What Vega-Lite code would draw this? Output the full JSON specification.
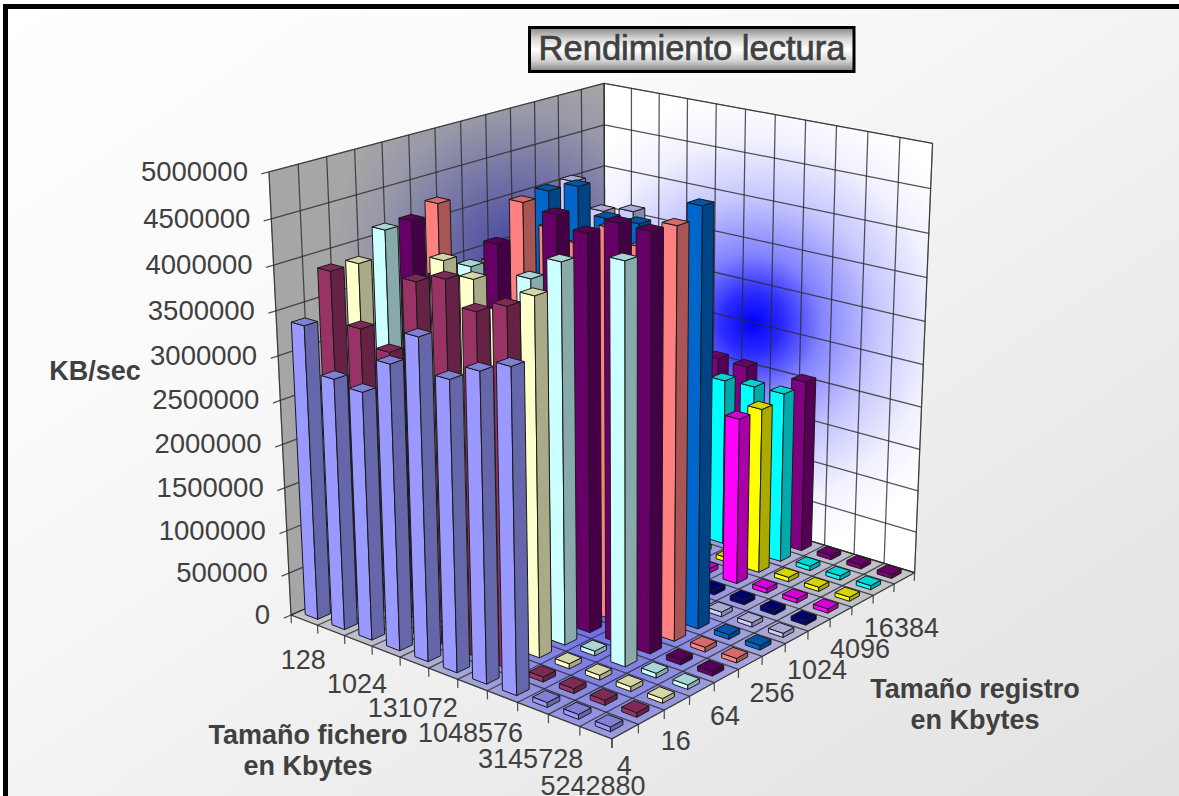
{"$schema":"https://vega.github.io/schema/vega-lite/v6.json","width":1179,"height":796,"padding":0,"autosize":{"type":"none"},"background":"white","config":{"view":{"stroke":null},"axis":{"domain":false,"grid":false,"ticks":false,"labels":false,"title":null}},
"datasets":{
"vertices":[{"n":0},{"n":1},{"n":2},{"n":3},{"n":4}],
"rejilla":[{"plano":"pi_v","k":[0,1,2,3,4,5,6,7,8,9,10,11,12,13]},{"plano":"pi_h","k":[0,1,2,3,4,5,6,7,8,9,10]},{"plano":"pd_v","k":[0,1,2,3,4,5,6,7,8,9,10,11]},{"plano":"pd_h","k":[0,1,2,3,4,5,6,7,8,9,10]},{"plano":"s_f","k":[0,1,2,3,4,5,6,7,8,9,10,11]},{"plano":"s_r","k":[0,1,2,3,4,5,6,7,8,9,10,11,12,13]},{"plano":"t_f","k":[0,1,2,3,4,5,6,7,8,9,10,11]},{"plano":"t_r","k":[0,1,2,3,4,5,6,7,8,9,10,11,12,13]},{"plano":"t_y","k":[0,1,2,3,4,5,6,7,8,9,10]}],
"barras":[
{"fichero":131072,"registro":16384,"kbs":2080000},{"fichero":524288,"registro":16384,"kbs":2070000},{"fichero":1048576,"registro":16384,"kbs":1500000},{"fichero":2097152,"registro":16384,"kbs":2070000},{"fichero":3145728,"registro":16384,"kbs":52000},{"fichero":4194304,"registro":16384,"kbs":50000},{"fichero":5242880,"registro":16384,"kbs":48000},
{"fichero":131072,"registro":8192,"kbs":1900000},{"fichero":524288,"registro":8192,"kbs":2010000},{"fichero":1048576,"registro":8192,"kbs":2030000},{"fichero":2097152,"registro":8192,"kbs":2040000},{"fichero":3145728,"registro":8192,"kbs":55000},{"fichero":4194304,"registro":8192,"kbs":52000},{"fichero":5242880,"registro":8192,"kbs":50000},
{"fichero":4096,"registro":4096,"kbs":52000},{"fichero":131072,"registro":4096,"kbs":52000},{"fichero":524288,"registro":4096,"kbs":53000},{"fichero":1048576,"registro":4096,"kbs":55000},{"fichero":2097152,"registro":4096,"kbs":1970000},{"fichero":3145728,"registro":4096,"kbs":55000},{"fichero":4194304,"registro":4096,"kbs":52000},{"fichero":5242880,"registro":4096,"kbs":50000},
{"fichero":4096,"registro":2048,"kbs":52000},{"fichero":131072,"registro":2048,"kbs":52000},{"fichero":524288,"registro":2048,"kbs":53000},{"fichero":1048576,"registro":2048,"kbs":55000},{"fichero":2097152,"registro":2048,"kbs":1970000},{"fichero":3145728,"registro":2048,"kbs":55000},{"fichero":4194304,"registro":2048,"kbs":52000},{"fichero":5242880,"registro":2048,"kbs":50000},
{"fichero":1024,"registro":1024,"kbs":52000},{"fichero":4096,"registro":1024,"kbs":52000},{"fichero":131072,"registro":1024,"kbs":52000},{"fichero":524288,"registro":1024,"kbs":53000},{"fichero":1048576,"registro":1024,"kbs":55000},{"fichero":2097152,"registro":1024,"kbs":55000},{"fichero":3145728,"registro":1024,"kbs":55000},{"fichero":4194304,"registro":1024,"kbs":52000},{"fichero":5242880,"registro":1024,"kbs":50000},
{"fichero":512,"registro":512,"kbs":3400000},{"fichero":1024,"registro":512,"kbs":3400000},{"fichero":4096,"registro":512,"kbs":4550000},{"fichero":131072,"registro":512,"kbs":4290000},{"fichero":524288,"registro":512,"kbs":4360000},{"fichero":1048576,"registro":512,"kbs":3000000},{"fichero":2097152,"registro":512,"kbs":55000},{"fichero":3145728,"registro":512,"kbs":55000},{"fichero":4194304,"registro":512,"kbs":52000},{"fichero":5242880,"registro":512,"kbs":50000},
{"fichero":512,"registro":256,"kbs":3300000},{"fichero":1024,"registro":256,"kbs":3800000},{"fichero":4096,"registro":256,"kbs":4530000},{"fichero":131072,"registro":256,"kbs":4650000},{"fichero":524288,"registro":256,"kbs":4370000},{"fichero":1048576,"registro":256,"kbs":4390000},{"fichero":2097152,"registro":256,"kbs":4300000},{"fichero":3145728,"registro":256,"kbs":4730000},{"fichero":4194304,"registro":256,"kbs":55000},{"fichero":5242880,"registro":256,"kbs":52000},
{"fichero":128,"registro":128,"kbs":4260000},{"fichero":512,"registro":128,"kbs":3500000},{"fichero":1024,"registro":128,"kbs":3750000},{"fichero":4096,"registro":128,"kbs":4490000},{"fichero":131072,"registro":128,"kbs":4280000},{"fichero":524288,"registro":128,"kbs":4180000},{"fichero":1048576,"registro":128,"kbs":4430000},{"fichero":2097152,"registro":128,"kbs":4300000},{"fichero":3145728,"registro":128,"kbs":4610000},{"fichero":4194304,"registro":128,"kbs":55000},{"fichero":5242880,"registro":128,"kbs":52000},
{"fichero":128,"registro":64,"kbs":4150000},{"fichero":512,"registro":64,"kbs":3600000},{"fichero":1024,"registro":64,"kbs":3600000},{"fichero":4096,"registro":64,"kbs":4120000},{"fichero":131072,"registro":64,"kbs":3500000},{"fichero":524288,"registro":64,"kbs":4590000},{"fichero":1048576,"registro":64,"kbs":4470000},{"fichero":2097152,"registro":64,"kbs":4650000},{"fichero":3145728,"registro":64,"kbs":4640000},{"fichero":4194304,"registro":64,"kbs":55000},{"fichero":5242880,"registro":64,"kbs":52000},
{"fichero":128,"registro":32,"kbs":4140000},{"fichero":512,"registro":32,"kbs":3500000},{"fichero":1024,"registro":32,"kbs":3600000},{"fichero":4096,"registro":32,"kbs":3970000},{"fichero":131072,"registro":32,"kbs":3300000},{"fichero":524288,"registro":32,"kbs":4000000},{"fichero":1048576,"registro":32,"kbs":4260000},{"fichero":2097152,"registro":32,"kbs":55000},{"fichero":3145728,"registro":32,"kbs":4430000},{"fichero":4194304,"registro":32,"kbs":55000},{"fichero":5242880,"registro":32,"kbs":52000},
{"fichero":128,"registro":16,"kbs":3860000},{"fichero":512,"registro":16,"kbs":2930000},{"fichero":1024,"registro":16,"kbs":3700000},{"fichero":4096,"registro":16,"kbs":4130000},{"fichero":131072,"registro":16,"kbs":4010000},{"fichero":524288,"registro":16,"kbs":3750000},{"fichero":1048576,"registro":16,"kbs":4000000},{"fichero":2097152,"registro":16,"kbs":58000},{"fichero":3145728,"registro":16,"kbs":55000},{"fichero":4194304,"registro":16,"kbs":55000},{"fichero":5242880,"registro":16,"kbs":52000},
{"fichero":128,"registro":8,"kbs":3870000},{"fichero":512,"registro":8,"kbs":3320000},{"fichero":1024,"registro":8,"kbs":3150000},{"fichero":4096,"registro":8,"kbs":4000000},{"fichero":131072,"registro":8,"kbs":4110000},{"fichero":524288,"registro":8,"kbs":3850000},{"fichero":1048576,"registro":8,"kbs":3990000},{"fichero":2097152,"registro":8,"kbs":58000},{"fichero":3145728,"registro":8,"kbs":55000},{"fichero":4194304,"registro":8,"kbs":55000},{"fichero":5242880,"registro":8,"kbs":52000},
{"fichero":128,"registro":4,"kbs":3370000},{"fichero":512,"registro":4,"kbs":2870000},{"fichero":1024,"registro":4,"kbs":2820000},{"fichero":4096,"registro":4,"kbs":3220000},{"fichero":131072,"registro":4,"kbs":3600000},{"fichero":524288,"registro":4,"kbs":3240000},{"fichero":1048576,"registro":4,"kbs":3420000},{"fichero":2097152,"registro":4,"kbs":3560000},{"fichero":3145728,"registro":4,"kbs":55000},{"fichero":4194304,"registro":4,"kbs":55000},{"fichero":5242880,"registro":4,"kbs":52000}
]},
"layer":[
{"data":{"values":[{}]},"mark":{"type":"rect","fill":{"gradient":"linear","x1":0,"y1":0,"x2":1,"y2":1,"stops":[{"offset":0,"color":"#FFFFFF"},{"offset":0.3,"color":"#FAFAFA"},{"offset":1,"color":"#E1E1E1"}]}},"encoding":{"x":{"datum":3,"type":"quantitative","scale":{"domain":[0,1179],"range":[0,1179],"nice":false,"zero":false},"axis":null},"x2":{"datum":1179},"y":{"datum":4,"type":"quantitative","scale":{"domain":[0,796],"range":[0,796],"nice":false,"zero":false},"axis":null},"y2":{"datum":796}}},
{"data":{"values":[{}]},"mark":{"type":"rect","fill":"#000000"},"encoding":{"x":{"datum":3,"type":"quantitative"},"x2":{"datum":1179},"y":{"datum":4,"type":"quantitative"},"y2":{"datum":9}}},
{"data":{"values":[{}]},"mark":{"type":"rect","fill":"#000000"},"encoding":{"x":{"datum":3,"type":"quantitative"},"x2":{"datum":8},"y":{"datum":4,"type":"quantitative"},"y2":{"datum":796}}},
{"data":{"name":"vertices"},"transform":[{"calculate":"0","as":"u"},{"calculate":"(datum.n==1||datum.n==2)?1:0","as":"v"},{"calculate":"(datum.n==2||datum.n==3)?1:0","as":"h"},{"calculate":"(291+259.9*datum.u+396.6*datum.v-38.5*datum.h)/(1-0.0997*datum.u+0.13565*datum.v-0.0612*datum.h)","as":"px"},{"calculate":"(615+50.2*datum.u-71.9*datum.v-453.6*datum.h)/(1-0.0997*datum.u+0.13565*datum.v-0.0612*datum.h)","as":"py"}],"mark":{"type":"line","stroke":"#808080","strokeWidth":1,"fill":{"gradient":"radial","x1":0.656,"y1":0.33,"r1":0,"x2":0.656,"y2":0.33,"r2":0.36,"stops":[{"offset":0,"color":"#3F3FA0"},{"offset":0.4,"color":"#6E6EA6"},{"offset":0.75,"color":"#9797A8"},{"offset":1,"color":"#A6A6A6"}]}},"encoding":{"x":{"field":"px","type":"quantitative"},"y":{"field":"py","type":"quantitative"},"order":{"field":"n"}}},
{"data":{"name":"vertices"},"transform":[{"calculate":"1","as":"v"},{"calculate":"(datum.n==1||datum.n==2)?1:0","as":"u"},{"calculate":"(datum.n==2||datum.n==3)?1:0","as":"h"},{"calculate":"(291+259.9*datum.u+396.6*datum.v-38.5*datum.h)/(1-0.0997*datum.u+0.13565*datum.v-0.0612*datum.h)","as":"px"},{"calculate":"(615+50.2*datum.u-71.9*datum.v-453.6*datum.h)/(1-0.0997*datum.u+0.13565*datum.v-0.0612*datum.h)","as":"py"}],"mark":{"type":"line","stroke":"#808080","strokeWidth":1,"fill":{"gradient":"radial","x1":0.468,"y1":0.49,"r1":0,"x2":0.468,"y2":0.49,"r2":0.47,"stops":[{"offset":0,"color":"#0000FF"},{"offset":0.13,"color":"#2A2AFF"},{"offset":0.3,"color":"#8484FF"},{"offset":0.55,"color":"#C8C8FF"},{"offset":0.8,"color":"#F2F2FF"},{"offset":1,"color":"#FFFFFF"}]}},"encoding":{"x":{"field":"px","type":"quantitative"},"y":{"field":"py","type":"quantitative"},"order":{"field":"n"}}},
{"data":{"name":"vertices"},"transform":[{"calculate":"0","as":"h"},{"calculate":"(datum.n==1||datum.n==2)?1:0","as":"u"},{"calculate":"(datum.n==2||datum.n==3)?1:0","as":"v"},{"calculate":"(291+259.9*datum.u+396.6*datum.v-38.5*datum.h)/(1-0.0997*datum.u+0.13565*datum.v-0.0612*datum.h)","as":"px"},{"calculate":"(615+50.2*datum.u-71.9*datum.v-453.6*datum.h)/(1-0.0997*datum.u+0.13565*datum.v-0.0612*datum.h)","as":"py"}],"mark":{"type":"line","stroke":"#808080","strokeWidth":1,"fill":{"gradient":"radial","x1":0.5,"y1":0.5,"r1":0,"x2":0.5,"y2":0.5,"r2":0.5,"stops":[{"offset":0,"color":"#6666EE"},{"offset":0.45,"color":"#A0A0DC"},{"offset":0.75,"color":"#BDBDCB"},{"offset":1,"color":"#C6C6C6"}]}},"encoding":{"x":{"field":"px","type":"quantitative"},"y":{"field":"py","type":"quantitative"},"order":{"field":"n"}}},
{"data":{"name":"rejilla"},"transform":[{"flatten":["k"]},
{"calculate":"datum.plano=='pi_v'||datum.plano=='pi_h'||datum.plano=='t_y'?0:datum.plano=='pd_v'?datum.k/11:datum.plano=='s_f'||datum.plano=='t_f'?datum.k/11:datum.plano=='t_r'?1:0","as":"u0"},
{"calculate":"datum.plano=='pi_v'||datum.plano=='s_r'||datum.plano=='t_r'?datum.k/13:datum.plano=='pd_v'||datum.plano=='pd_h'?1:0","as":"v0"},
{"calculate":"datum.plano=='pi_h'||datum.plano=='pd_h'||datum.plano=='t_y'?datum.k/10:0","as":"h0"},
{"calculate":"datum.plano=='pd_h'||datum.plano=='s_r'?1:datum.u0","as":"u1"},
{"calculate":"datum.plano=='pi_h'||datum.plano=='s_f'?1:datum.plano=='t_y'?-0.02:datum.v0","as":"v1"},
{"calculate":"datum.plano=='pi_v'||datum.plano=='pd_v'?1:datum.plano=='t_f'||datum.plano=='t_r'?-0.02:datum.h0","as":"h1"},
{"calculate":"(291+259.9*datum.u0+396.6*datum.v0-38.5*datum.h0)/(1-0.0997*datum.u0+0.13565*datum.v0-0.0612*datum.h0)","as":"px0"},
{"calculate":"(615+50.2*datum.u0-71.9*datum.v0-453.6*datum.h0)/(1-0.0997*datum.u0+0.13565*datum.v0-0.0612*datum.h0)","as":"py0"},
{"calculate":"(291+259.9*datum.u1+396.6*datum.v1-38.5*datum.h1)/(1-0.0997*datum.u1+0.13565*datum.v1-0.0612*datum.h1)","as":"px1"},
{"calculate":"(615+50.2*datum.u1-71.9*datum.v1-453.6*datum.h1)/(1-0.0997*datum.u1+0.13565*datum.v1-0.0612*datum.h1)","as":"py1"}],
"mark":{"type":"rule","stroke":"#2A2A2A","strokeWidth":1.25,"opacity":0.8},"encoding":{"x":{"field":"px0","type":"quantitative"},"y":{"field":"py0","type":"quantitative"},"x2":{"field":"px1"},"y2":{"field":"py1"}}},
{"data":{"name":"barras"},"transform":[
{"calculate":"indexof([128,512,1024,4096,131072,524288,1048576,2097152,3145728,4194304,5242880],datum.fichero)","as":"i"},
{"calculate":"indexof([4,8,16,32,64,128,256,512,1024,2048,4096,8192,16384],datum.registro)","as":"j"},
{"calculate":"['izq','der','sup']","as":"cara"},{"flatten":["cara"]},
{"calculate":"[0,1,2,3,4]","as":"n"},{"flatten":["n"]},
{"calculate":"datum.n%4","as":"m"},
{"calculate":"(datum.i+0.265)/11","as":"ua"},{"calculate":"(datum.i+0.735)/11","as":"ub"},
{"calculate":"(datum.j+0.265)/13","as":"va"},{"calculate":"(datum.j+0.735)/13","as":"vb"},
{"calculate":"datum.cara=='der'?datum.ub:((datum.m==1||datum.m==2)?datum.ub:datum.ua)","as":"u"},
{"calculate":"datum.cara=='izq'?datum.va:datum.cara=='der'?((datum.m==1||datum.m==2)?datum.vb:datum.va):((datum.m==2||datum.m==3)?datum.vb:datum.va)","as":"v"},
{"calculate":"datum.cara=='sup'?datum.kbs/5000000:((datum.m==2||datum.m==3)?datum.kbs/5000000:0)","as":"h"},
{"calculate":"(291+259.9*datum.u+396.6*datum.v-38.5*datum.h)/(1-0.0997*datum.u+0.13565*datum.v-0.0612*datum.h)","as":"px"},
{"calculate":"(615+50.2*datum.u-71.9*datum.v-453.6*datum.h)/(1-0.0997*datum.u+0.13565*datum.v-0.0612*datum.h)","as":"py"},
{"calculate":"datum.registro+'-'+datum.cara","as":"tono"},
{"calculate":"'b'+datum.fichero+'_'+datum.registro+'_'+datum.cara","as":"cid"}],
"mark":{"type":"line","stroke":"#1A1A1A","strokeWidth":1,"strokeJoin":"round","interpolate":"linear"},
"encoding":{"x":{"field":"px","type":"quantitative"},"y":{"field":"py","type":"quantitative"},"order":{"field":"n"},"detail":{"field":"cid"},
"fill":{"field":"tono","type":"nominal","legend":null,"scale":{"domain":["4-izq","4-der","4-sup","8-izq","8-der","8-sup","16-izq","16-der","16-sup","32-izq","32-der","32-sup","64-izq","64-der","64-sup","128-izq","128-der","128-sup","256-izq","256-der","256-sup","512-izq","512-der","512-sup","1024-izq","1024-der","1024-sup","2048-izq","2048-der","2048-sup","4096-izq","4096-der","4096-sup","8192-izq","8192-der","8192-sup","16384-izq","16384-der","16384-sup"],"range":["#9999FF","#6666AA","#8080D5","#993366","#662244","#7F2A55","#FFFFCC","#AAAA88","#D5D5AA","#CCFFFF","#88AAAA","#AAD5D5","#660066","#440044","#550055","#FF8080","#AA5555","#D56B6B","#0066CC","#004488","#0055AA","#CCCCFF","#8888AA","#AAAAD5","#000080","#000055","#00006B","#FF00FF","#AA00AA","#D500D5","#FFFF00","#AAAA00","#D5D500","#00FFFF","#00AAAA","#00D5D5","#800080","#550055","#6B006B"]}}}},
{"data":{"values":[{"valor":0},{"valor":500000},{"valor":1000000},{"valor":1500000},{"valor":2000000},{"valor":2500000},{"valor":3000000},{"valor":3500000},{"valor":4000000},{"valor":4500000},{"valor":5000000}]},"transform":[{"calculate":"datum.valor/5000000","as":"h"},{"calculate":"(291-38.5*datum.h)/(1-0.0612*datum.h)","as":"px"},{"calculate":"(615-453.6*datum.h)/(1-0.0612*datum.h)","as":"py"}],"mark":{"type":"text","align":"right","baseline":"middle","dx":-21,"dy":1,"font":"Liberation Sans","fontSize":27.5,"fill":"#404040"},"encoding":{"x":{"field":"px","type":"quantitative"},"y":{"field":"py","type":"quantitative"},"text":{"field":"valor","type":"quantitative","format":"d"}}},
{"data":{"values":[{"fichero":128},{"fichero":1024},{"fichero":131072},{"fichero":1048576},{"fichero":3145728},{"fichero":5242880}]},"transform":[{"calculate":"(indexof([128,512,1024,4096,131072,524288,1048576,2097152,3145728,4194304,5242880],datum.fichero)+0.5)/11","as":"u"},{"calculate":"-(0.098+0.024*datum.u)","as":"h"},{"calculate":"(291+259.9*datum.u-38.5*datum.h)/(1-0.0997*datum.u-0.0612*datum.h)","as":"px"},{"calculate":"(615+50.2*datum.u-453.6*datum.h)/(1-0.0997*datum.u-0.0612*datum.h)","as":"py"}],"mark":{"type":"text","align":"center","baseline":"middle","dx":-3,"font":"Liberation Sans","fontSize":27,"fill":"#404040"},"encoding":{"x":{"field":"px","type":"quantitative"},"y":{"field":"py","type":"quantitative"},"text":{"field":"fichero","type":"nominal"}}},
{"data":{"values":[{"registro":4},{"registro":16},{"registro":64},{"registro":256},{"registro":1024},{"registro":4096},{"registro":16384}]},"transform":[{"calculate":"(indexof([4,8,16,32,64,128,256,512,1024,2048,4096,8192,16384],datum.registro)+0.5)/13","as":"v"},{"calculate":"-(0.078+0.05*datum.v)","as":"h"},{"calculate":"(291+259.9+396.6*datum.v-38.5*datum.h)/(1-0.0997+0.13565*datum.v-0.0612*datum.h)","as":"px"},{"calculate":"(615+50.2-71.9*datum.v-453.6*datum.h)/(1-0.0997+0.13565*datum.v-0.0612*datum.h)","as":"py"}],"mark":{"type":"text","align":"center","baseline":"middle","dx":-1,"font":"Liberation Sans","fontSize":27,"fill":"#404040"},"encoding":{"x":{"field":"px","type":"quantitative"},"y":{"field":"py","type":"quantitative"},"text":{"field":"registro","type":"nominal"}}},
{"data":{"values":[{}]},"mark":{"type":"text","font":"Liberation Sans","fontWeight":"bold","fontSize":27,"fill":"#404040","align":"center","baseline":"middle"},"encoding":{"x":{"datum":95,"type":"quantitative"},"y":{"datum":372,"type":"quantitative"},"text":{"value":"KB/sec"}}},
{"data":{"values":[{}]},"mark":{"type":"text","font":"Liberation Sans","fontWeight":"bold","fontSize":27,"fill":"#404040","align":"center","baseline":"middle"},"encoding":{"x":{"datum":308,"type":"quantitative"},"y":{"datum":736,"type":"quantitative"},"text":{"value":"Tamaño fichero"}}},
{"data":{"values":[{}]},"mark":{"type":"text","font":"Liberation Sans","fontWeight":"bold","fontSize":27,"fill":"#404040","align":"center","baseline":"middle"},"encoding":{"x":{"datum":308,"type":"quantitative"},"y":{"datum":767,"type":"quantitative"},"text":{"value":"en Kbytes"}}},
{"data":{"values":[{}]},"mark":{"type":"text","font":"Liberation Sans","fontWeight":"bold","fontSize":27,"fill":"#404040","align":"center","baseline":"middle"},"encoding":{"x":{"datum":975,"type":"quantitative"},"y":{"datum":690,"type":"quantitative"},"text":{"value":"Tamaño registro"}}},
{"data":{"values":[{}]},"mark":{"type":"text","font":"Liberation Sans","fontWeight":"bold","fontSize":27,"fill":"#404040","align":"center","baseline":"middle"},"encoding":{"x":{"datum":975,"type":"quantitative"},"y":{"datum":721,"type":"quantitative"},"text":{"value":"en Kbytes"}}},
{"data":{"values":[{}]},"mark":{"type":"rect","stroke":"#000000","strokeWidth":3,"fill":{"gradient":"linear","x1":0,"y1":0,"x2":0,"y2":1,"stops":[{"offset":0,"color":"#858585"},{"offset":0.25,"color":"#D5D5D5"},{"offset":0.5,"color":"#FFFFFF"},{"offset":0.75,"color":"#D5D5D5"},{"offset":1,"color":"#808080"}]}},"encoding":{"x":{"datum":529.5,"type":"quantitative"},"x2":{"datum":854},"y":{"datum":27.5,"type":"quantitative"},"y2":{"datum":71.5}}},
{"data":{"values":[{}]},"mark":{"type":"text","font":"Liberation Sans","fontSize":34.5,"fill":"#404040","stroke":"#404040","strokeWidth":0.7,"align":"center","baseline":"middle"},"encoding":{"x":{"datum":692,"type":"quantitative"},"y":{"datum":50,"type":"quantitative"},"text":{"value":"Rendimiento lectura"}}}
]}
